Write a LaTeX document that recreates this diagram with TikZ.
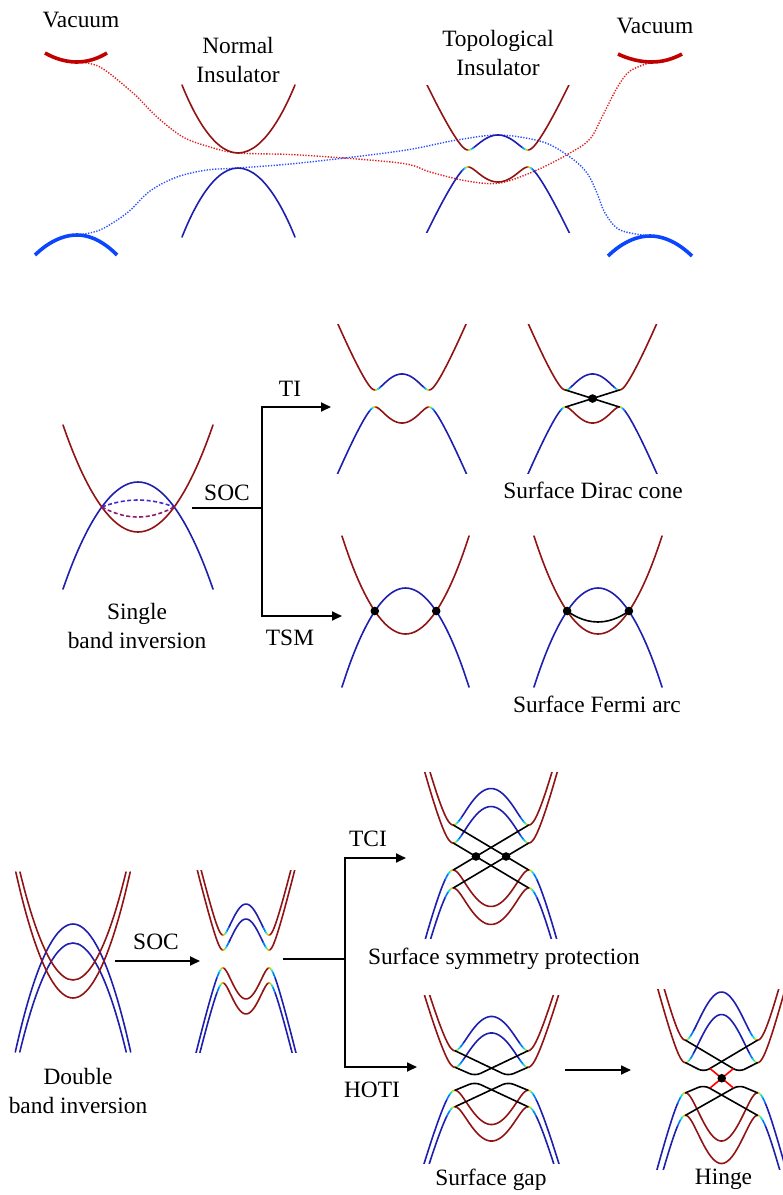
\documentclass[tikz,border=0pt]{standalone}
\usepackage{fontspec}
\setmainfont{Liberation Serif}
\usetikzlibrary{arrows.meta,calc}
\definecolor{bandred}{RGB}{145,20,20}
\definecolor{bandblue}{RGB}{30,30,175}
\definecolor{vacred}{RGB}{195,0,0}
\definecolor{vacblue}{RGB}{10,70,255}
\definecolor{dotred}{RGB}{225,30,30}
\definecolor{dotblue}{RGB}{40,80,255}
\definecolor{dashblue}{RGB}{70,40,210}
\definecolor{dashred}{RGB}{140,30,110}
\definecolor{trA}{RGB}{0,120,255}
\definecolor{trB}{RGB}{0,220,230}
\definecolor{trC}{RGB}{170,230,60}
\definecolor{trD}{RGB}{255,170,0}
\definecolor{hingered}{RGB}{255,0,0}

\newcommand{\gapset}[9]{%
 \def\gcx{#1}\def\gW{#2}\def\gk{#3}\def\gs{#4}\def\gm{#5}\def\gD{#6}\def\gtop{#7}\def\gbot{#8}%
 \pgfmathsetmacro\ghk{sqrt(1+(#3/#4)*(#3/#4))-1}%
 \pgfmathsetmacro\gkA{#3-4*#9}%
 \pgfmathsetmacro\gkB{#3-2.5*#9}%
 \pgfmathsetmacro\gkC{#3-1.5*#9}%
 \pgfmathsetmacro\gkD{#3-0.6*#9}%
 \pgfmathsetmacro\gkE{#3+0.6*#9}%
 \pgfmathsetmacro\gkF{#3+1.5*#9}%
 \pgfmathsetmacro\gkG{#3+2.5*#9}%
 \pgfmathsetmacro\gkH{#3+4*#9}%
}
\newcommand{\bseg}[5]{%
 \draw[band,#1] plot[domain=#2:#3, samples=#5] ({\gcx+\gW*\x},{\gyc+#4*gE(\x)});}
\newcommand{\gapcopy}[1]{%
 \def\gyc{#1}%
 \begin{scope}
 \clip (\gcx-\gW-12,\gtop) rectangle (\gcx+\gW+12,\gbot);
 % upper band
 \bseg{bandred}{-1.12}{-\gk}{-1}{30}
 \bseg{bandred}{\gk}{1.12}{-1}{30}
 \bseg{bandblue}{-\gkA}{\gkA}{-1}{40}
 \bseg{trA}{\gkA}{\gkB}{-1}{4}\bseg{trA}{-\gkB}{-\gkA}{-1}{4}
 \bseg{trB}{\gkB}{\gkC}{-1}{4}\bseg{trB}{-\gkC}{-\gkB}{-1}{4}
 \bseg{trC}{\gkC}{\gkD}{-1}{4}\bseg{trC}{-\gkD}{-\gkC}{-1}{4}
 \bseg{trD}{\gkD}{\gk}{-1}{4}\bseg{trD}{-\gk}{-\gkD}{-1}{4}
 % lower band
 \bseg{bandred}{-\gk}{\gk}{1}{40}
 \bseg{bandblue}{\gkH}{1.12}{1}{30}
 \bseg{bandblue}{-1.12}{-\gkH}{1}{30}
 \bseg{trA}{\gkG}{\gkH}{1}{4}\bseg{trA}{-\gkH}{-\gkG}{1}{4}
 \bseg{trB}{\gkF}{\gkG}{1}{4}\bseg{trB}{-\gkG}{-\gkF}{1}{4}
 \bseg{trC}{\gkE}{\gkF}{1}{4}\bseg{trC}{-\gkF}{-\gkE}{1}{4}
 \bseg{trD}{\gk}{\gkE}{1}{4}\bseg{trD}{-\gkE}{-\gk}{1}{4}
 \end{scope}}

\begin{document}
\begin{tikzpicture}[x=1pt,y=-1pt,
  declare function={gG(\q)=\gm*(sqrt(1+(\q/\gs)*(\q/\gs))-1)/\ghk-\gm;
                    gE(\q)=10*sqrt((gG(\q)/10)*(gG(\q)/10)+(\gD/10)*(\gD/10));},
  band/.style={line width=1.6pt,line cap=round,line join=round},
  vacR/.style={vacred,line width=3.6pt},
  vacB/.style={vacblue,line width=3.6pt},
  dotR/.style={dotred,line width=1.4pt,dash pattern=on 1.3pt off 1.5pt},
  dotB/.style={dotblue,line width=1.4pt,dash pattern=on 1.3pt off 1.5pt},
  dsh/.style={line width=1.6pt,dash pattern=on 4pt off 2.5pt},
  surf/.style={black,line width=1.6pt,line cap=round},
  conn/.style={black,line width=1.8pt},
  arr/.style={conn,-{Triangle[length=10pt,width=9pt]}},
  lbl/.style={font=\fontsize{23.4}{28.5}\selectfont,inner sep=0pt,align=center,anchor=base}]
\fill[white] (0,0) rectangle (783,1195);
\useasboundingbox (0,0) rectangle (783,1195);

% ---------------- top: vacuum / NI / TI ----------------
\coordinate (vLr) at (77,62);
\coordinate (vLb) at (77,235);
\coordinate (vRr) at (652,62);
\coordinate (vRb) at (650,236);
\coordinate (niR) at (238,153);
\coordinate (niB) at (238,168);

\draw[dotR] plot[smooth,tension=0.55] coordinates {(vLr) (100,67) (133,93) (157,117) (183,137) (210,147) (niR) (300,155) (400,163) (430,172) (467,181) (500,183) (537,170) (570,153) (590,139) (603,115) (617,88) (630,71) (vRr)};
\draw[dotB] plot[smooth,tension=0.55] coordinates {(vLb) (100,230) (127,213) (150,191) (177,177) (207,170) (niB) (300,163) (400,151) (457,140) (500,135) (543,142) (570,157) (587,173) (597,193) (605,213) (620,230) (vRb)};

\draw[vacR] (45,53) parabola bend (vLr) (107,53);
\draw[vacB] (35,255) parabola bend (vLb) (117,255);
\draw[vacR] (618,54) parabola bend (vRr) (682,54);
\draw[vacB] (608,256) parabola bend (vRb) (692,256);

\draw[band,bandred] (182,85) parabola bend (niR) (295,85);
\draw[band,bandblue] (182,237) parabola bend (niB) (295,237);

\gapset{498}{71}{0.42}{0.63}{21.9}{8.5}{85}{232}{0.02}
\gapcopy{158.5}

\node[lbl] (vacLlbl) at (81,27) {Vacuum};
\node[lbl] (vacRlbl) at (655,33) {Vacuum};
\node[lbl] (niLbl) at (238,82) {Normal\\Insulator};
\node[lbl] (tiLbl) at (498,75) {Topological\\Insulator};

% ---------------- middle: single band inversion ----------------
\coordinate (siR) at (138,532);
\coordinate (siB) at (138,482);
\coordinate (siX1) at (102,507);
\coordinate (siX2) at (174,507);
\draw[band,bandblue] (63,589) parabola bend (siB) (213,589);
\draw[band,bandred] (63,425) parabola bend (siR) (213,425);
\draw[dsh,dashblue] (siX1) parabola bend (138,500) (siX2);
\draw[dsh,dashred] (siX1) parabola bend (138,517) (siX2);
\node[lbl] (siLbl) at (137,648) {Single\\band inversion};

% TI (middle)
\gapset{402}{64}{0.42}{0.57}{23}{8.5}{324}{473}{0.02}
\gapcopy{398.5}
% Dirac cone
\gapset{592.5}{64}{0.42}{0.57}{23}{8.5}{324}{473}{0.02}
\gapcopy{398.5}
\coordinate (dLu) at (565.6,390);
\coordinate (dRu) at (619.4,390);
\coordinate (dLl) at (565.6,407);
\coordinate (dRl) at (619.4,407);
\draw[surf] (dLu) -- (dRl);
\draw[surf] (dRu) -- (dLl);
\fill (intersection of dLu--dRl and dRu--dLl) circle (4.3pt);
\node[lbl] (diracLbl) at (593,498) {Surface Dirac cone};

% TSM
\coordinate (tsR) at (405.5,634);
\coordinate (tsB) at (405.5,588);
\coordinate (tsX1) at (374.8,611);
\coordinate (tsX2) at (436.2,611);
\draw[band,bandblue] (342,687) parabola bend (tsB) (469,687);
\draw[band,bandred] (342,536) parabola bend (tsR) (469,536);
\fill (tsX1) circle (4.3pt);
\fill (tsX2) circle (4.3pt);

% Fermi arc
\coordinate (faR) at (598,634);
\coordinate (faB) at (598,588);
\coordinate (faX1) at (567.1,611);
\coordinate (faX2) at (628.9,611);
\draw[band,bandblue] (534,687) parabola bend (faB) (662,687);
\draw[band,bandred] (534,536) parabola bend (faR) (662,536);
\draw[surf] (faX1) parabola bend (598,622) (faX2);
\fill (faX1) circle (4.3pt);
\fill (faX2) circle (4.3pt);
\node[lbl] (fermiLbl) at (597,712) {Surface Fermi arc};

% branch arrows (middle)
\coordinate (socAs) at (192,508);
\coordinate (brA) at (262,508);
\coordinate (tiEnd) at (331,407);
\coordinate (tsmEnd) at (342,616);
\draw[conn] (socAs) -- (brA);
\draw[arr] (brA) |- (tiEnd);
\draw[arr] (brA) |- (tsmEnd);
\node[lbl] (socAlbl) at (227,500) {SOC};
\node[lbl] (tiAlbl) at (290,396) {TI};
\node[lbl] (tsmlbl) at (290,645) {TSM};

% ---------------- bottom ----------------
\draw[band,bandblue] (15.3,1052) parabola bend (73,924) (130.7,1052);
\draw[band,bandblue] (19.8,1052) parabola bend (73,943) (126.2,1052);
\draw[band,bandred] (20,872) parabola bend (73,980) (126,872);
\draw[band,bandred] (15.8,872) parabola bend (73,998) (130.2,872);
\node[lbl] (dbLbl) at (78,1113) {Double\\band inversion};

\coordinate (socBs) at (115,961);
\coordinate (socBe) at (200,961);
\draw[arr] (socBs) -- (socBe);
\node[lbl] (socBlbl) at (156,949) {SOC};

\gapset{246}{49}{0.47}{0.42}{44.5}{16.5}{870}{1052}{0.03}
\gapcopy{951.5}
\gapcopy{966.5}

\coordinate (brBs) at (283,959);
\coordinate (brB) at (345,959);
\coordinate (tciEnd) at (406,858);
\coordinate (hotiEnd) at (417,1067);
\draw[conn] (brBs) -- (brB);
\draw[arr] (brB) |- (tciEnd);
\draw[arr] (brB) |- (hotiEnd);
\node[lbl] (tcilbl) at (368,846) {TCI};
\node[lbl] (hotilbl) at (372,1097) {HOTI};

% TCI
\gapset{491}{66}{0.572}{0.85}{54.5}{22.5}{772}{938}{0.03}
\gapcopy{847.5}
\gapcopy{865.5}
\coordinate (tLAu) at (453.25,825);
\coordinate (tRAu) at (528.75,825);
\coordinate (tLAl) at (453.25,870);
\coordinate (tRAl) at (528.75,870);
\coordinate (tLBu) at (453.25,843);
\coordinate (tRBu) at (528.75,843);
\coordinate (tLBl) at (453.25,888);
\coordinate (tRBl) at (528.75,888);
\draw[surf] (tLAu) -- (tRAl);
\draw[surf] (tRAu) -- (tLAl);
\draw[surf] (tLBu) -- (tRBl);
\draw[surf] (tRBu) -- (tLBl);
\fill (intersection of tLAu--tRAl and tRBu--tLBl) circle (4.3pt);
\fill (intersection of tRAu--tLAl and tLBu--tRBl) circle (4.3pt);
\node[lbl] (tciSub) at (504,964) {Surface symmetry protection};

% HOTI
\gapset{491.5}{67}{0.545}{0.7}{50.3}{19.75}{995}{1163}{0.03}
\gapcopy{1070.5}
\gapcopy{1087}
\coordinate (hLAu) at (455,1050.75);
\coordinate (hRAu) at (528,1050.75);
\coordinate (hLBu) at (455,1067.25);
\coordinate (hRBu) at (528,1067.25);
\coordinate (hLAl) at (455,1090.25);
\coordinate (hRAl) at (528,1090.25);
\coordinate (hLBl) at (455,1106.75);
\coordinate (hRBl) at (528,1106.75);
\coordinate (hKur) at (508,1076);
\coordinate (hKul) at (475,1076);
\coordinate (hKll) at (475,1082);
\coordinate (hKlr) at (508,1082);
\draw[surf,rounded corners=6pt] (hLAu) -- (hKur) -- (hRBu);
\draw[surf,rounded corners=6pt] (hRAu) -- (hKul) -- (hLBu);
\draw[surf,rounded corners=6pt] (hLAl) -- (hKll) -- (hRBl);
\draw[surf,rounded corners=6pt] (hRAl) -- (hKlr) -- (hLBl);
\node[lbl] (gapLbl) at (491,1185) {Surface gap};

\coordinate (hgS) at (565,1070);
\coordinate (hgE) at (631,1070);
\draw[arr] (hgS) -- (hgE);

% Hinge
\gapset{721.5}{64}{0.5625}{0.46}{69.7}{26.3}{989}{1169}{0.03}
\gapcopy{1066.5}
\gapcopy{1089}
\coordinate (gLAu) at (685.5,1040.2);
\coordinate (gRAu) at (757.5,1040.2);
\coordinate (gLBu) at (685.5,1062.7);
\coordinate (gRBu) at (757.5,1062.7);
\coordinate (gLAl) at (685.5,1092.8);
\coordinate (gRAl) at (757.5,1092.8);
\coordinate (gLBl) at (685.5,1115.3);
\coordinate (gRBl) at (757.5,1115.3);
\coordinate (gKur) at (739,1072);
\coordinate (gKul) at (704,1072);
\coordinate (gKll) at (704,1085);
\coordinate (gKlr) at (739,1085);
\draw[surf,rounded corners=6pt] (gLAu) -- (gKur) -- (gRBu);
\draw[surf,rounded corners=6pt] (gRAu) -- (gKul) -- (gLBu);
\draw[surf,rounded corners=6pt] (gLAl) -- (gKll) -- (gRBl);
\draw[surf,rounded corners=6pt] (gRAl) -- (gKlr) -- (gLBl);
\coordinate (gX1) at (710,1068.5);
\coordinate (gX2) at (733.5,1088);
\coordinate (gX3) at (733.5,1068.5);
\coordinate (gX4) at (710,1088);
\draw[hingered,line width=1.6pt] (gX1) -- (gX2);
\draw[hingered,line width=1.6pt] (gX3) -- (gX4);
\fill (intersection of gX1--gX2 and gX3--gX4) circle (4.3pt);
\node[lbl] (hingeLbl) at (723.5,1184) {Hinge};
\end{tikzpicture}
\end{document}
